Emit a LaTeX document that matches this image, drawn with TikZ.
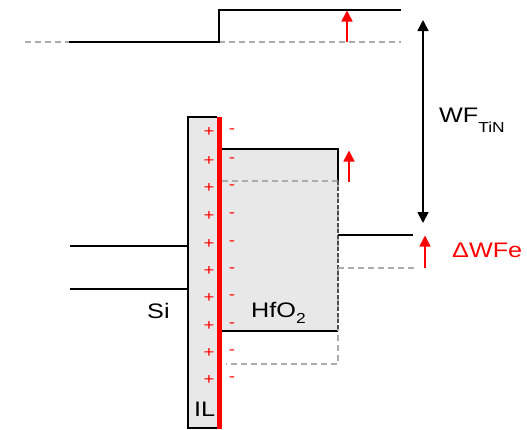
\documentclass[tikz,border=0pt]{standalone}
\usepackage{fontspec}
\setmainfont{Liberation Sans}[FakeStretch=1.2]
\usetikzlibrary{arrows.meta}
\begin{document}
\begin{tikzpicture}[x=1pt,y=-1pt,
  band/.style={line width=1.9pt, black},
  refl/.style={line width=1.5pt, draw=gray!65, dash pattern=on 6pt off 4pt},
  shiftarr/.style={red, line width=1.6pt, -{Triangle[width=11pt,length=11pt]}},
  wfarr/.style={black, line width=1.7pt, {Triangle[width=11pt,length=11pt]}-{Triangle[width=11pt,length=11pt]}},
  lbl/.style={inner sep=0, anchor=base west, font=\fontsize{21}{24}\selectfont},
  chg/.style={red, inner sep=0, font=\fontsize{15.5}{17}\selectfont},
]
\useasboundingbox (0,0) rectangle (527,429);

% top metal (TiN) levels
\coordinate (g1) at (25,42);
\coordinate (m1) at (69,42);
\coordinate (stp) at (219,42);
\coordinate (stpt) at (219,10);
\coordinate (tr) at (401,10);
\coordinate (g2) at (401,42);
\draw[refl] (g1) -- (m1);
\draw[refl] (stp) -- (g2);
\draw[band] (m1) -- (stp) -- (stpt) -- (tr);
\coordinate (a1s) at (347,42);
\coordinate (a1e) at (347,10.5);
\draw[shiftarr] (a1s) -- (a1e);

% IL
\draw[band, fill=gray!18] (217,428) -- (188,428) -- (188,117) -- (217,117);

% HfO2
\fill[gray!18] (222,149) rectangle (338,331);
\draw[band] (222,149) -- (338,149) -- (338,181);
\draw[band] (222,331) -- (338,331);
\draw[refl] (222,181) -- (338,181) -- (338,364) -- (226,364);
\draw[line width=1.5pt, draw=black!70, dash pattern=on 4pt off 2pt] (338,181) -- (338,331);
\coordinate (a2s) at (349,182);
\coordinate (a2e) at (349,150.5);
\draw[shiftarr] (a2s) -- (a2e);

% red dipole bar
\draw[red, line width=5pt] (219.5,117) -- (219.5,429);

% charges
\foreach \y [count=\i] in {132,161,188,216,244,271,298,326,353,380} {
  \node[chg] (p\i) at (209,\y) {+};
  \node[chg] (m\i) at (232,\y-1) {-};
}

% Si bands
\coordinate (s1a) at (70,246); \coordinate (s1b) at (188,246);
\coordinate (s2a) at (70,289); \coordinate (s2b) at (188,289);
\draw[band] (s1a) -- (s1b);
\draw[band] (s2a) -- (s2b);

% right metal level
\draw[band] (338,235) -- (413,235);
\draw[refl] (338,268) -- (415,268);
\coordinate (a3s) at (425,268);
\coordinate (a3e) at (425,235.5);
\draw[shiftarr] (a3s) -- (a3e);

% WF arrow
\coordinate (wt) at (423,20);
\coordinate (wb) at (423,223);
\draw[wfarr] (wt) -- (wb);

% labels
\node[lbl] (wf) at (439,122) {WF\raisebox{-10pt}{\fontsize{14.5}{16}\selectfont TiN}};
\node[lbl, text=red] (dwf) at (452,257) {ΔWFe};
\node[lbl] (hf) at (251,317) {HfO\raisebox{-6pt}{\fontsize{14.5}{16}\selectfont 2}};
\node[lbl] (si) at (147,318) {Si};
\node[lbl] (il) at (194,416) {IL};
\end{tikzpicture}
\end{document}
